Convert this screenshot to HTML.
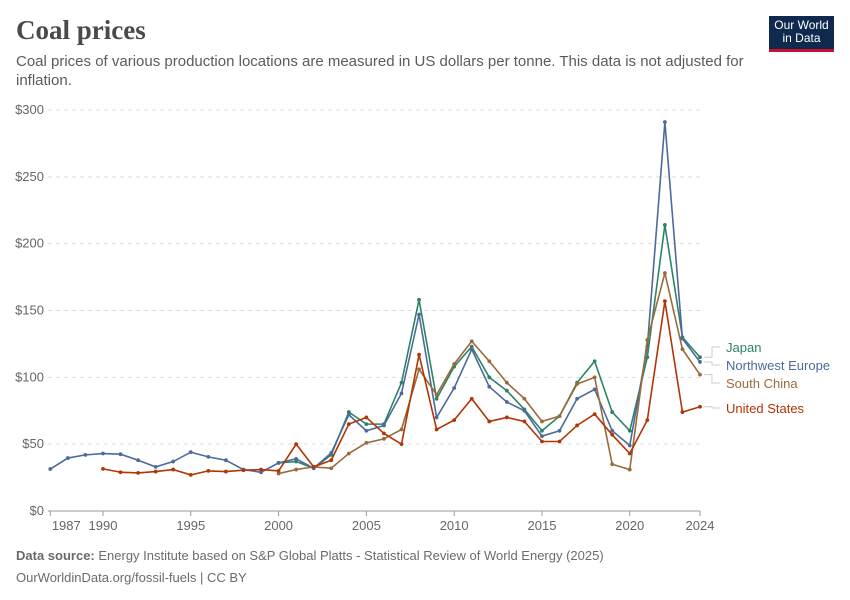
<!DOCTYPE html>
<html><head><meta charset="utf-8">
<style>
body{margin:0;background:#fff;font-family:"Liberation Sans",sans-serif;}
#wrap{position:relative;width:850px;height:600px;overflow:hidden;}
h1{position:absolute;left:16px;top:15px;margin:0;font-family:"Liberation Serif",serif;font-size:27px;font-weight:bold;color:#4a4a4a;}
.sub{position:absolute;left:16px;top:52px;width:730px;font-size:15px;line-height:19px;color:#5b5b5b;}
.logo{position:absolute;left:769px;top:16px;width:65px;height:36px;background:#0f2a4e;color:#fff;font-size:12px;line-height:13px;text-align:center;padding-top:3px;box-sizing:border-box;border-bottom:3px solid #c8102e;}
.foot{position:absolute;left:16px;font-size:13px;color:#6b6b6b;}
</style></head><body>
<div id="wrap">
<h1>Coal prices</h1>
<div class="sub">Coal prices of various production locations are measured in US dollars per tonne. This data is not adjusted for inflation.</div>
<div class="logo">Our World<br>in Data</div>
<svg id="chart" width="850" height="600" style="position:absolute;left:0;top:0"></svg>
<div class="foot" style="top:548px"><b>Data source:</b> Energy Institute based on S&amp;P Global Platts - Statistical Review of World Energy (2025)</div>
<div class="foot" style="top:570px">OurWorldinData.org/fossil-fuels | CC BY</div>
</div>
<script>
const yearsNW=[1987,1988,1989,1990,1991,1992,1993,1994,1995,1996,1997,1998,1999,2000,2001,2002,2003,2004,2005,2006,2007,2008,2009,2010,2011,2012,2013,2014,2015,2016,2017,2018,2019,2020,2021,2022,2023,2024];
const valsNW=[31.4,39.6,42,43,42.5,38,33,37,44,40.5,38,31,29,36,39,32,43.5,72,60,64,88,147,70,92,121,93,81.5,75,56,60,84,91,60,49,123,291,129,111.5];
const yearsJP=[2000,2001,2002,2003,2004,2005,2006,2007,2008,2009,2010,2011,2012,2013,2014,2015,2016,2017,2018,2019,2020,2021,2022,2023,2024];
const valsJP=[36,37,32,42,74,65,65,96,158,84,108,123,100,90,76,60,71,96,112,74,60,115,214,130,115];
const yearsSC=yearsJP;
const valsSC=[28,31,33,32,43,51,54,61,106,87,110,127,112,96,84,67,71,95,100,35,31,128,178,121,102];
const yearsUS=[1990,1991,1992,1993,1994,1995,1996,1997,1998,1999,2000,2001,2002,2003,2004,2005,2006,2007,2008,2009,2010,2011,2012,2013,2014,2015,2016,2017,2018,2019,2020,2021,2022,2023,2024];
const valsUS=[31.5,29,28.5,29.5,31,27,30,29.5,30.5,31,30,50,33,38,65,70,58,50,117,61,68,84,67,70,67,52,52,64,72.5,57,43,68,157,74,78];
const yTicks=[0,50,100,150,200,250,300];
const xTicks=[1987,1990,1995,2000,2005,2010,2015,2020,2024];
const series=[
 {name:'Japan',ys:yearsJP,vs:valsJP,c:'#2c8465',ly:347},
 {name:'Northwest Europe',ys:yearsNW,vs:valsNW,c:'#4c6a9c',ly:365},
 {name:'South China',ys:yearsSC,vs:valsSC,c:'#9a6b3a',ly:383},
 {name:'United States',ys:yearsUS,vs:valsUS,c:'#b13507',ly:408}];
const X=y=>50.3+(y-1987)*(700-50.3)/37;
const Y=v=>511-v*401/300;
const svg=document.getElementById('chart');
const NS='http://www.w3.org/2000/svg';
function mk(t,a){const e=document.createElementNS(NS,t);for(const k in a)e.setAttribute(k,a[k]);svg.appendChild(e);return e;}
yTicks.forEach(v=>{
 const l=mk('line',{x1:48,x2:700,y1:Y(v),y2:Y(v),stroke:v?'#ddd':'#999','stroke-dasharray':v?'4,4':'none'});
 
 
 const t=mk('text',{x:44,y:Y(v)+4,'text-anchor':'end','font-size':13,fill:'#666','font-family':'Liberation Sans, sans-serif'});
 t.textContent='$'+v;
 
 
});
xTicks.forEach(y=>{
 const l=mk('line',{x1:X(y),x2:X(y),y1:511,y2:516,stroke:'#999'});
 
 
 const t=mk('text',{x:X(y)+(y===1987?16:0),y:530,'text-anchor':'middle','font-size':13,fill:'#666','font-family':'Liberation Sans, sans-serif'});
 t.textContent=y;
 
 
});
series.forEach(s=>{
 const pts=s.ys.map((y,i)=>X(y)+','+Y(s.vs[i])).join(' ');
 const p=mk('polyline',{points:pts,fill:'none',stroke:s.c,'stroke-width':1.6});
 
 
 s.ys.forEach((y,i)=>{
  const c=mk('circle',{cx:X(y),cy:Y(s.vs[i]),r:1.9,fill:s.c});
  
  
 });
 const last=Y(s.vs[s.vs.length-1]);
 const g=mk('polyline',{points:`704,${last} 712,${last} 712,${s.ly} 720,${s.ly}`,fill:'none',stroke:'#ccc'});
 
 
 const t=mk('text',{x:726,y:s.ly+5,'font-size':13,fill:s.c,'font-family':'Liberation Sans, sans-serif'});
 t.textContent=s.name;
 
 
});
</script>
</body></html>
